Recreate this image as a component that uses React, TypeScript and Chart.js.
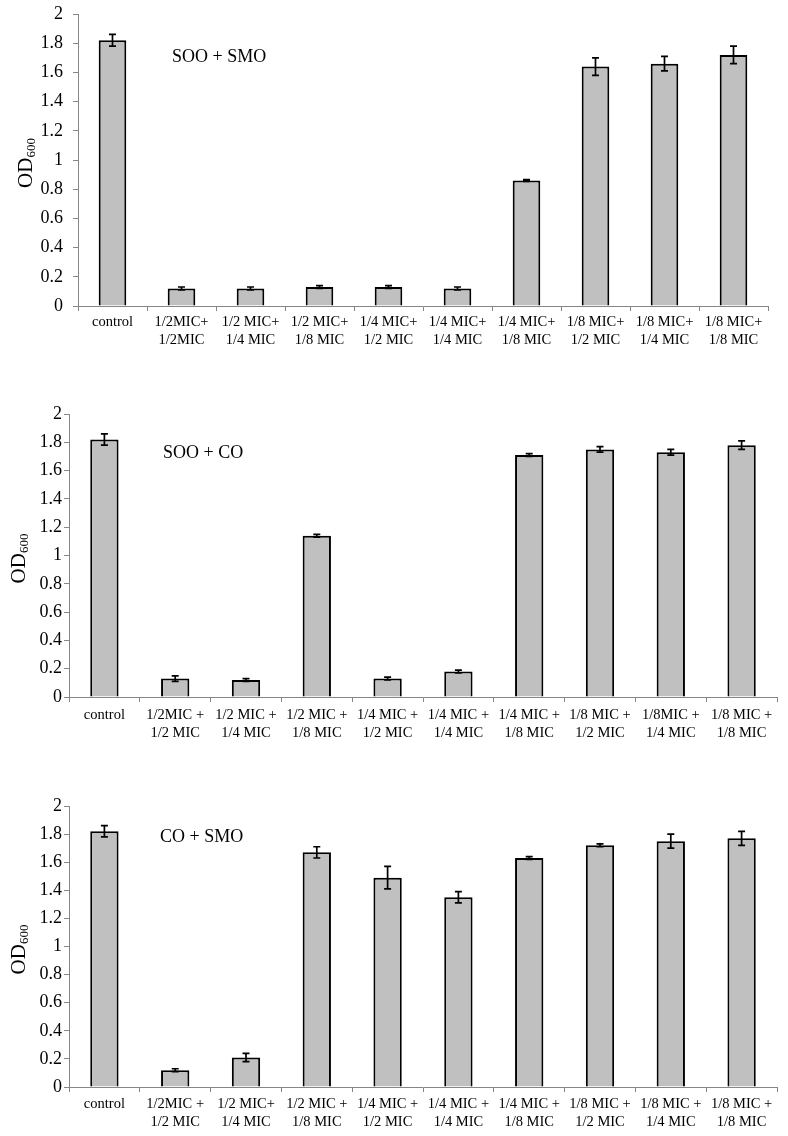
import React, { useEffect, useRef } from 'react';
import { Chart, registerables } from 'chart.js';

Chart.register(...registerables);

// ---------- data ----------
const labelsA = [
  'control',
  ['1/2MIC+', '1/2MIC'],
  ['1/2 MIC+', '1/4 MIC'],
  ['1/2 MIC+', '1/8 MIC'],
  ['1/4 MIC+', '1/2 MIC'],
  ['1/4 MIC+', '1/4 MIC'],
  ['1/4 MIC+', '1/8 MIC'],
  ['1/8 MIC+', '1/2 MIC'],
  ['1/8 MIC+', '1/4 MIC'],
  ['1/8 MIC+', '1/8 MIC'],
];
const valuesA = [1.82, 0.12, 0.12, 0.13, 0.13, 0.12, 0.86, 1.64, 1.66, 1.72];
const errorsA = [0.04, 0.01, 0.01, 0.01, 0.01, 0.01, 0.006, 0.06, 0.05, 0.06];

const labelsB = [
  'control',
  ['1/2MIC +', '1/2 MIC'],
  ['1/2 MIC +', '1/4 MIC'],
  ['1/2 MIC +', '1/8 MIC'],
  ['1/4 MIC +', '1/2 MIC'],
  ['1/4 MIC +', '1/4 MIC'],
  ['1/4 MIC +', '1/8 MIC'],
  ['1/8 MIC +', '1/2 MIC'],
  ['1/8MIC +', '1/4 MIC'],
  ['1/8 MIC +', '1/8 MIC'],
];
const valuesB = [1.82, 0.13, 0.12, 1.14, 0.13, 0.18, 1.71, 1.75, 1.73, 1.78];
const errorsB = [0.04, 0.02, 0.01, 0.01, 0.01, 0.01, 0.01, 0.02, 0.02, 0.03];

const labelsC = [
  'control',
  ['1/2MIC +', '1/2 MIC'],
  ['1/2 MIC+', '1/4 MIC'],
  ['1/2 MIC +', '1/8 MIC'],
  ['1/4 MIC +', '1/2 MIC'],
  ['1/4 MIC +', '1/4 MIC'],
  ['1/4 MIC +', '1/8 MIC'],
  ['1/8 MIC +', '1/2 MIC'],
  ['1/8 MIC +', '1/4 MIC'],
  ['1/8 MIC +', '1/8 MIC'],
];
const valuesC = [1.82, 0.12, 0.21, 1.67, 1.49, 1.35, 1.63, 1.72, 1.75, 1.77];
const errorsC = [0.04, 0.01, 0.03, 0.04, 0.08, 0.04, 0.01, 0.01, 0.05, 0.05];

const yMin = 0;
const yMax = 2;
const yStep = 0.2;

const titleA = 'SOO + SMO';
const titleB = 'SOO + CO';
const titleC = 'CO + SMO';

// ---------- styles ----------
const FONT = "'Liberation Serif', 'Times New Roman', serif";
const AXIS = '#868686';
const FILL = '#C0C0C0';

type PanelProps = {
  labels: any[];
  values: number[];
  errors: number[];
  title: string;
  top: number;
  height: number;
  areaLeft: number;
  areaRight: number;
  areaTop: number;
  areaBottom: number;
  yPad: number;
  xPad: number;
  titleDx: number;
  titleY: number;
  yTitleBase: number;
};

function Panel(p: PanelProps) {
  const ref = useRef<HTMLCanvasElement | null>(null);
  useEffect(() => {
    const canvas = ref.current!;
    const errorBars = {
      id: 'errorBars',
      afterDatasetsDraw(chart: any) {
        const meta = chart.getDatasetMeta(0);
        const ys = chart.scales.y;
        const ctx = chart.ctx;
        ctx.save();
        ctx.strokeStyle = '#000';
        ctx.lineWidth = 1.7;
        meta.data.forEach((bar: any, i: number) => {
          const v = p.values[i];
          const e = p.errors[i];
          const yt = ys.getPixelForValue(v + e);
          const yb = ys.getPixelForValue(v - e);
          const x = bar.x;
          const cap = 3.5;
          ctx.beginPath();
          ctx.moveTo(x, yt);
          ctx.lineTo(x, yb);
          ctx.moveTo(x - cap, yt);
          ctx.lineTo(x + cap, yt);
          ctx.moveTo(x - cap, yb);
          ctx.lineTo(x + cap, yb);
          ctx.stroke();
        });
        ctx.restore();
      },
    };
    const texts = {
      id: 'texts',
      afterDraw(chart: any) {
        const ctx = chart.ctx;
        const a = chart.chartArea;
        ctx.save();
        ctx.fillStyle = '#000';
        // panel title
        ctx.font = `18px ${FONT}`;
        ctx.textAlign = 'left';
        ctx.textBaseline = 'middle';
        ctx.fillText(p.title, a.left + p.titleDx, p.titleY);
        // y-axis title OD600
        const cy = (a.top + a.bottom) / 2 + 3;
        ctx.translate(p.yTitleBase, cy);
        ctx.rotate(-Math.PI / 2);
        ctx.textBaseline = 'alphabetic';
        ctx.font = `21px ${FONT}`;
        const w1 = ctx.measureText('OD').width;
        ctx.font = `13px ${FONT}`;
        const w2 = ctx.measureText('600').width;
        const start = -(w1 + w2) / 2;
        ctx.font = `21px ${FONT}`;
        ctx.fillText('OD', start, 0);
        ctx.font = `13px ${FONT}`;
        ctx.fillText('600', start + w1, 3);
        ctx.restore();
      },
    };
    const chart = new Chart(canvas, {
      type: 'bar',
      data: {
        labels: p.labels,
        datasets: [
          {
            data: p.values,
            backgroundColor: FILL,
            borderColor: '#000',
            borderWidth: 2,
            borderSkipped: 'start',
            barPercentage: 0.4,
            categoryPercentage: 1,
          },
        ],
      },
      options: {
        responsive: false,
        animation: false,
        devicePixelRatio: 1,
        layout: {
          autoPadding: false,
          padding: { left: 0, right: 788 - p.areaRight, top: p.areaTop, bottom: 0 },
        },
        plugins: { legend: { display: false }, tooltip: { enabled: false }, title: { display: false } },
        scales: {
          x: {
            offset: true,
            grid: { display: true, drawOnChartArea: false, drawTicks: true, tickLength: 5, color: AXIS, offset: true },
            border: { color: AXIS, width: 1 },
            ticks: {
              color: '#000',
              font: { family: FONT, size: 14.5, lineHeight: 1.24 },
              maxRotation: 0,
              minRotation: 0,
              autoSkip: false,
              padding: p.xPad,
            },
            afterFit(scale: any) {
              scale.height = p.height - p.areaBottom;
            },
          },
          y: {
            min: yMin,
            max: yMax,
            grid: { display: true, drawOnChartArea: false, drawTicks: true, tickLength: 5, color: AXIS },
            border: { color: AXIS, width: 1 },
            ticks: {
              stepSize: yStep,
              color: '#000',
              font: { family: FONT, size: 18 },
              padding: p.yPad,
              callback: (v: any) => String(Math.round(Number(v) * 10) / 10),
            },
            afterFit(scale: any) {
              scale.width = p.areaLeft;
            },
          },
        },
      },
      plugins: [errorBars, texts],
    } as any);
    return () => chart.destroy();
  }, []);
  return (
    <canvas
      ref={ref}
      width={788}
      height={p.height}
      style={{ position: 'absolute', left: 0, top: p.top, width: 788, height: p.height, display: 'block' }}
    />
  );
}

export default function App() {
  return (
    <div style={{ position: 'absolute', left: 0, top: 0, width: 788, height: 1136, background: '#fff', overflow: 'hidden' }}>
      <Panel
        labels={labelsA}
        values={valuesA}
        errors={errorsA}
        title={titleA}
        top={-20}
        height={390}
        areaLeft={78}
        areaRight={768}
        areaTop={34}
        areaBottom={326}
        yPad={10}
        xPad={2}
        titleDx={94}
        titleY={77}
        yTitleBase={32}
      />
      <Panel
        labels={labelsB}
        values={valuesB}
        errors={errorsB}
        title={titleB}
        top={380}
        height={390}
        areaLeft={69}
        areaRight={777}
        areaTop={34}
        areaBottom={317}
        yPad={2}
        xPad={4}
        titleDx={94}
        titleY={73}
        yTitleBase={25}
      />
      <Panel
        labels={labelsC}
        values={valuesC}
        errors={errorsC}
        title={titleC}
        top={770}
        height={366}
        areaLeft={69}
        areaRight={777}
        areaTop={36}
        areaBottom={317}
        yPad={2}
        xPad={3}
        titleDx={91}
        titleY={67}
        yTitleBase={25}
      />
    </div>
  );
}
